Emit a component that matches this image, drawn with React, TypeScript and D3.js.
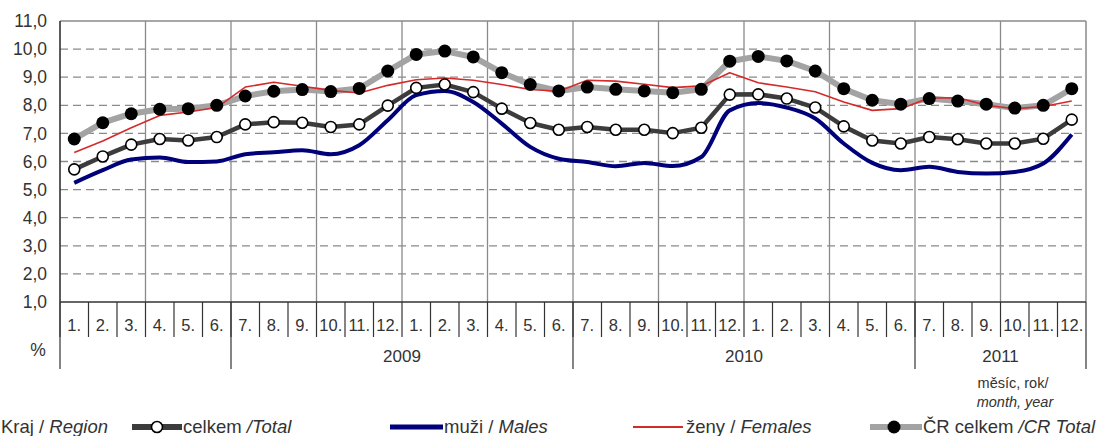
import React from "react";
import * as d3 from "d3";

const monthLabels = ["1.","2.","3.","4.","5.","6.","7.","8.","9.","10.","11.","12.","1.","2.","3.","4.","5.","6.","7.","8.","9.","10.","11.","12.","1.","2.","3.","4.","5.","6.","7.","8.","9.","10.","11.","12."];
const yearGroups = [
  { label: "", start: 0, end: 6 },
  { label: "2009", start: 6, end: 18 },
  { label: "2010", start: 18, end: 30 },
  { label: "2011", start: 30, end: 36 },
];
const crTotal = [6.8,7.38,7.7,7.86,7.88,8.0,8.33,8.5,8.56,8.49,8.6,9.22,9.81,9.93,9.72,9.16,8.74,8.51,8.65,8.57,8.51,8.45,8.57,9.57,9.74,9.58,9.22,8.59,8.18,8.04,8.24,8.15,8.04,7.9,8.0,8.59];
const total = [5.72,6.18,6.6,6.8,6.75,6.87,7.32,7.4,7.38,7.23,7.32,7.99,8.62,8.74,8.47,7.88,7.37,7.13,7.23,7.13,7.13,7.01,7.2,8.38,8.39,8.24,7.92,7.25,6.75,6.64,6.87,6.79,6.64,6.64,6.81,7.49];
const males = [5.24,5.69,6.07,6.14,5.98,6.0,6.26,6.33,6.4,6.26,6.58,7.47,8.36,8.51,8.12,7.35,6.52,6.1,5.98,5.83,5.95,5.84,6.16,7.82,8.08,7.92,7.53,6.64,5.95,5.69,5.81,5.63,5.57,5.63,5.93,6.96];
const females = [6.32,6.73,7.2,7.64,7.76,7.92,8.65,8.82,8.68,8.53,8.44,8.71,8.91,8.97,8.89,8.74,8.56,8.5,8.89,8.86,8.75,8.63,8.69,9.16,8.8,8.65,8.48,8.12,7.82,7.88,8.26,8.27,8.0,7.88,7.96,8.15];
const yTicks = [1,2,3,4,5,6,7,8,9,10,11];

const W = 1102, H = 436;
const L = 60, R = 1086, T = 21, B = 302;
const FONT = "'Liberation Sans', Arial, sans-serif";

export default function App() {
  const idx = monthLabels.map((_, i) => i);
  const x = d3.scaleBand<number>().domain(idx).range([L, R]).padding(0);
  const y = d3.scaleLinear().domain([1, 11]).range([B, T]);
  const cx = (i: number) => (x(i) as number) + x.bandwidth() / 2;
  const lin = d3.line<number>().x((_, i) => cx(i)).y((d) => y(d));
  const smooth = d3.line<number>().x((_, i) => cx(i)).y((d) => y(d)).curve(d3.curveMonotoneX);
  const fmt = (v: number) => v.toFixed(1).replace(".", ",");

  return (
    <svg width={W} height={H} style={{ position: "absolute", left: 0, top: 0, background: "#fff" }} fontFamily={FONT}>
      <rect x={0} y={0} width={W} height={H} fill="#fff" />
      {yTicks.filter((t) => t > 1 && t < 11).map((t) => (
        <line key={"g" + t} x1={L} x2={R} y1={y(t)} y2={y(t)} stroke="#8a8a8a" strokeWidth={1.3} strokeDasharray="8,5" />
      ))}
      {idx.filter((i) => i > 0 && i % 3 === 0).map((i) => (
        <line key={"v" + i} x1={x(i) as number} x2={x(i) as number} y1={T} y2={B} stroke="#8a8a8a" strokeWidth={1.3} />
      ))}
      <line x1={L} x2={R} y1={T} y2={T} stroke="#8a8a8a" strokeWidth={1.5} />
      <line x1={R} x2={R} y1={T} y2={B} stroke="#8a8a8a" strokeWidth={1.5} />
      <line x1={L} x2={L} y1={T} y2={B} stroke="#333" strokeWidth={1.6} />
      <line x1={L} x2={R} y1={B} y2={B} stroke="#333" strokeWidth={1.6} />
      {yTicks.map((t) => (
        <text key={"yl" + t} x={47} y={y(t)} dy="0.35em" textAnchor="end" fontSize={17.5} fill="#333">{fmt(t)}</text>
      ))}
      {idx.map((i) => (
        <line key={"ms" + i} x1={x(i) as number} x2={x(i) as number} y1={B} y2={337} stroke="#333" strokeWidth={1.2} />
      ))}
      <line x1={R} x2={R} y1={B} y2={369} stroke="#333" strokeWidth={1.2} />
      {monthLabels.map((m, i) => (
        <text key={"ml" + i} x={cx(i)} y={325} dy="0.35em" textAnchor="middle" fontSize={16.5} fill="#333">{m}</text>
      ))}
      {yearGroups.map((g) => (
        <line key={"yd" + g.start} x1={x(g.start) as number} x2={x(g.start) as number} y1={B} y2={369} stroke="#333" strokeWidth={1.2} />
      ))}
      {yearGroups.map((g) => (
        <text key={"yt" + g.start} x={((x(g.start) as number) + (g.end < 36 ? (x(g.end) as number) : R)) / 2} y={356} dy="0.35em" textAnchor="middle" fontSize={17} fill="#333">{g.label}</text>
      ))}
      <text x={38} y={350} dy="0.35em" textAnchor="middle" fontSize={17.5} fill="#333">%</text>
      <text x={1013} y={383} dy="0.35em" textAnchor="middle" fontSize={14.5} fill="#333">měsíc, rok/</text>
      <text x={1015} y={402} dy="0.35em" textAnchor="middle" fontSize={14.5} fontStyle="italic" fill="#333">month, year</text>

      <path d={lin(crTotal) || ""} fill="none" stroke="#a3a3a3" strokeWidth={6} strokeLinejoin="round" />
      <path d={lin(females) || ""} fill="none" stroke="#d42a2a" strokeWidth={1.6} strokeLinejoin="round" />
      {crTotal.map((v, i) => (
        <circle key={"cr" + i} cx={cx(i)} cy={y(v)} r={6.5} fill="#000" />
      ))}
      <path d={smooth(males) || ""} fill="none" stroke="#00007a" strokeWidth={4} strokeLinejoin="round" />
      <path d={lin(total) || ""} fill="none" stroke="#3c3c3c" strokeWidth={4.5} strokeLinejoin="round" />
      {total.map((v, i) => (
        <circle key={"t" + i} cx={cx(i)} cy={y(v)} r={5.5} fill="#fff" stroke="#000" strokeWidth={1.6} />
      ))}

      <g fontSize={18.5} fill="#333">
        <text x={1} y={433}>Kraj / <tspan fontStyle="italic">Region</tspan></text>
        <line x1={132} x2={182} y1={427} y2={427} stroke="#3c3c3c" strokeWidth={6} />
        <circle cx={157} cy={427} r={5.5} fill="#fff" stroke="#000" strokeWidth={1.6} />
        <text x={183} y={433}>celkem <tspan fontStyle="italic">/Total</tspan></text>
        <line x1={390} x2={443} y1={427} y2={427} stroke="#00007a" strokeWidth={5} />
        <text x={444} y={433}>muži / <tspan fontStyle="italic">Males</tspan></text>
        <line x1={633} x2={683} y1={427} y2={427} stroke="#d42a2a" strokeWidth={2} />
        <text x={686} y={433}>ženy / <tspan fontStyle="italic">Females</tspan></text>
        <line x1={870} x2={922} y1={427} y2={427} stroke="#a3a3a3" strokeWidth={6} />
        <circle cx={894} cy={427} r={6.5} fill="#000" />
        <text x={923} y={433}>ČR celkem <tspan fontStyle="italic">/CR Total</tspan></text>
      </g>
    </svg>
  );
}
